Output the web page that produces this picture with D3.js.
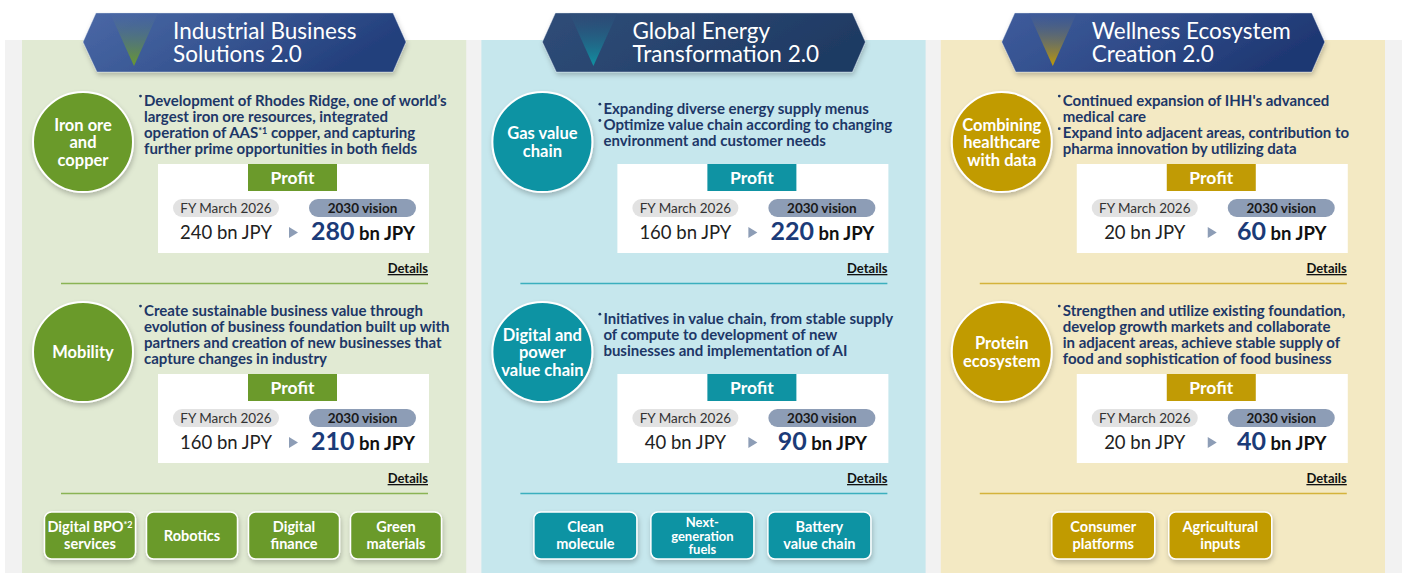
<!DOCTYPE html>
<html>
<head>
<meta charset="utf-8">
<script src="https://cdn.jsdelivr.net/npm/d3@7"></script>
<style>
  body { margin: 0; background: #fff; }
  svg { display: block; }
  text { font-family: Lato, "Noto Sans", sans-serif; }
</style>
</head>
<body>
<div id="chart"></div>
<script>
;(function() {
  'use strict';

  // ---- data ----
  var pillarTitles = [
    ['Industrial Business', 'Solutions 2.0'],
    ['Global Energy', 'Transformation 2.0'],
    ['Wellness Ecosystem', 'Creation 2.0']
  ];

  var segmentNames = [
    [['Iron ore', 'and', 'copper'], ['Mobility']],
    [['Gas value', 'chain'], ['Digital and', 'power', 'value chain']],
    [['Combining', 'healthcare', 'with data'], ['Protein', 'ecosystem']]
  ];

  // each bullet is a list of lines; {..} marks a superscript
  var segmentBullets = [
    [
      [["Development of Rhodes Ridge, one of world\u2019s", 'largest iron ore resources, integrated', 'operation of AAS{*1} copper, and capturing', 'further prime opportunities in both fields']],
      [['Create sustainable business value through', 'evolution of business foundation built up with', 'partners and creation of new businesses that', 'capture changes in industry']]
    ],
    [
      [['Expanding diverse energy supply menus'], ['Optimize value chain according to changing', 'environment and customer needs']],
      [['Initiatives in value chain, from stable supply', 'of compute to development of new', 'businesses and implementation of AI']]
    ],
    [
      [["Continued expansion of IHH's advanced", 'medical care'], ['Expand into adjacent areas, contribution to', 'pharma innovation by utilizing data']],
      [['Strengthen and utilize existing foundation,', 'develop growth markets and collaborate', 'in adjacent areas, achieve stable supply of', 'food and sophistication of food business']]
    ]
  ];

  var profitFY2026 = [[240, 160], [160, 40], [20, 20]];
  var profitVision2030 = [[280, 210], [220, 90], [60, 40]];

  var focusAreas = [
    [['Digital BPO{*2}', 'services'], ['Robotics'], ['Digital', 'finance'], ['Green', 'materials']],
    [['Clean', 'molecule'], ['Next-', 'generation', 'fuels'], ['Battery', 'value chain']],
    [['Consumer', 'platforms'], ['Agricultural', 'inputs']]
  ];

  var accentColors = ['#6b9a2b', '#0f93a3', '#c19b05'];
  var panelColors = ['#e1ead3', '#c6e7ed', '#f3e9c3'];
  var ruleColors = ['#8ab454', '#3bafbe', '#d4b33b'];
  var bannerColors = [['#4a68a6', '#233f7c'], ['#2f4d78', '#1f3a63'], ['#3e5c9c', '#1f3873']];

  // ---- layout ----
  var width = 1402, height = 573;

  var svg = d3.select('#chart').append('svg')
    .attr('width', width)
    .attr('height', height);

  var defs = svg.append('defs');

  var shadow = defs.append('filter').attr('id', 'shadow')
    .attr('x', '-20%').attr('y', '-20%').attr('width', '140%').attr('height', '150%');
  shadow.append('feDropShadow')
    .attr('dx', 1).attr('dy', 3).attr('stdDeviation', 2.5)
    .attr('flood-color', '#000').attr('flood-opacity', 0.22);

  bannerColors.forEach(function(c, i) {
    var g = defs.append('linearGradient').attr('id', 'banner' + i)
      .attr('x1', 0).attr('y1', 0).attr('x2', 1).attr('y2', 0.3);
    g.append('stop').attr('offset', '0%').attr('stop-color', c[0]);
    g.append('stop').attr('offset', '45%').attr('stop-color', d3.interpolateRgb(c[0], c[1])(0.4));
    g.append('stop').attr('offset', '100%').attr('stop-color', c[1]);

    var t = defs.append('linearGradient').attr('id', 'tri' + i)
      .attr('x1', 0).attr('y1', 0).attr('x2', 0).attr('y2', 1);
    t.append('stop').attr('offset', '0%').attr('stop-color', c[0]).attr('stop-opacity', 0.3);
    t.append('stop').attr('offset', '100%').attr('stop-color', accentColors[i]);
  });

  var x = d3.scaleBand()
    .domain(d3.range(pillarTitles.length))
    .range([22, 1385])
    .paddingInner(0.033);

  var sectionY = d3.scaleLinear().domain([0, 1]).range([0, 210]);

  // grey backdrop
  svg.append('rect')
    .attr('x', 5).attr('y', 40)
    .attr('width', width - 5).attr('height', height - 40)
    .attr('fill', '#f2f2f2');

  function addText(sel, str, supSize) {
    // split on {..} superscripts
    str.split(/(\{[^}]*\})/).forEach(function(part) {
      if (!part) return;
      if (part.charAt(0) === '{') {
        sel.append('tspan')
          .attr('font-size', supSize)
          .attr('baseline-shift', '45%')
          .text(part.slice(1, -1));
      } else {
        sel.append('tspan').text(part);
      }
    });
  }

  var panel = svg.selectAll('g.panel')
    .data(pillarTitles)
    .enter().append('g')
    .attr('class', 'panel')
    .attr('transform', function(d, i) { return 'translate(' + x(i) + ',0)'; });

  panel.append('rect')
    .attr('y', 40)
    .attr('width', x.bandwidth())
    .attr('height', height - 40)
    .attr('fill', function(d, i) { return panelColors[i]; });

  panel.each(function(title, p) {
    var g = d3.select(this);
    var accent = accentColors[p];

    /* ------- BANNER ------- */
    var bx0 = 61, bx1 = 384, by0 = 13, by1 = 72, bm = 42;
    g.append('path')
      .attr('d', 'M' + (bx0 + 13) + ',' + by0 + 'L' + (bx1 - 13) + ',' + by0 +
        'L' + bx1 + ',' + bm + 'L' + (bx1 - 13) + ',' + by1 +
        'L' + (bx0 + 14) + ',' + by1 + 'L' + bx0 + ',' + bm + 'Z')
      .attr('fill', 'url(#banner' + p + ')')
      .attr('stroke', '#dfe6f2').attr('stroke-opacity', 0.5).attr('stroke-width', 0.8)
      .attr('filter', 'url(#shadow)');

    g.append('path')
      .attr('d', 'M88,' + by0 + 'L136,' + by0 + 'L112,66Z')
      .attr('fill', 'url(#tri' + p + ')');

    title.forEach(function(line, i) {
      g.append('text')
        .attr('x', 151).attr('y', 39 + i * 23)
        .attr('fill', '#fff')
        .attr('font-size', 22.5)
        .text(line);
    });

    /* ------- SEGMENTS ------- */
    segmentNames[p].forEach(function(names, s) {
      var sy = sectionY(s);
      var cy = 142 + sy;

      g.append('circle')
        .attr('cx', 61).attr('cy', cy).attr('r', 50)
        .attr('fill', accent)
        .attr('stroke', '#fff').attr('stroke-width', 2)
        .attr('filter', 'url(#shadow)');

      var lh = 17.5;
      names.forEach(function(n, i) {
        g.append('text')
          .attr('x', 61)
          .attr('y', cy + 6 + (i - (names.length - 1) / 2) * lh)
          .attr('text-anchor', 'middle')
          .attr('fill', '#fff')
          .attr('font-size', 16.5)
          .attr('font-weight', 700)
          .text(n);
      });

      // bullet text
      var bullets = segmentBullets[p][s];
      var lines = [];
      bullets.forEach(function(b) {
        b.forEach(function(l, k) { lines.push({ text: l, first: k === 0 }); });
      });
      var blh = 16.3;
      var top = 125 + sy - (lines.length - 1) / 2 * blh;
      lines.forEach(function(l, k) {
        var ly = top + k * blh + 5;
        if (l.first) {
          g.append('circle')
            .attr('cx', 118.5).attr('cy', ly - 9.5)
            .attr('r', 1.4)
            .attr('fill', '#1d3767');
        }
        var t = g.append('text')
          .attr('x', 122).attr('y', ly)
          .attr('fill', '#1d3767')
          .attr('font-size', 15)
          .attr('font-weight', 700);
        addText(t, l.text, 9);
      });

      /* ------- PROFIT BOX ------- */
      var bx = 136, by = 164 + sy, bw = 271, bh = 89;
      g.append('rect')
        .attr('x', bx).attr('y', by)
        .attr('width', bw).attr('height', bh)
        .attr('fill', '#fff');

      g.append('rect')
        .attr('x', bx + 90).attr('y', by)
        .attr('width', 89).attr('height', 27)
        .attr('fill', accent);
      g.append('text')
        .attr('x', bx + 134.5).attr('y', by + 20)
        .attr('text-anchor', 'middle')
        .attr('fill', '#fff')
        .attr('font-size', 17.5)
        .attr('font-weight', 700)
        .text('Profit');

      g.append('rect')
        .attr('x', bx + 15).attr('y', by + 35)
        .attr('width', 106).attr('height', 18).attr('rx', 9)
        .attr('fill', '#e2e2e2');
      g.append('text')
        .attr('x', bx + 68).attr('y', by + 49)
        .attr('text-anchor', 'middle')
        .attr('fill', '#333')
        .attr('font-size', 13.5)
        .text('FY March 2026');

      g.append('rect')
        .attr('x', bx + 151).attr('y', by + 35)
        .attr('width', 107).attr('height', 18).attr('rx', 9)
        .attr('fill', '#8d9db6');
      g.append('text')
        .attr('x', bx + 204.5).attr('y', by + 49)
        .attr('text-anchor', 'middle')
        .attr('fill', '#1a1a1a')
        .attr('font-size', 13.5)
        .attr('font-weight', 700)
        .text('2030 vision');

      g.append('text')
        .attr('x', bx + 68).attr('y', by + 75)
        .attr('text-anchor', 'middle')
        .attr('fill', '#222')
        .attr('font-size', 18.5)
        .text(profitFY2026[p][s] + ' bn JPY');

      g.append('path')
        .attr('d', 'M' + (bx + 131) + ',' + (by + 63) + 'l9,5.5l-9,5.5Z')
        .attr('fill', '#8d9db6');

      var v = g.append('text')
        .attr('x', bx + 205).attr('y', by + 76)
        .attr('text-anchor', 'middle')
        .attr('font-weight', 700);
      v.append('tspan')
        .attr('fill', '#1b3b78')
        .attr('font-size', 25)
        .text(profitVision2030[p][s]);
      v.append('tspan')
        .attr('fill', '#111')
        .attr('font-size', 18.5)
        .text(' bn JPY');

      g.append('text')
        .attr('x', 406).attr('y', 273 + sy)
        .attr('text-anchor', 'end')
        .attr('fill', '#111')
        .attr('font-size', 13)
        .attr('font-weight', 700)
        .attr('text-decoration', 'underline')
        .text('Details');

      g.append('line')
        .attr('x1', 39).attr('x2', 406)
        .attr('y1', 283.5 + sy).attr('y2', 283.5 + sy)
        .attr('stroke', ruleColors[p])
        .attr('stroke-width', 1.5);
    });

    /* ------- FOCUS AREAS ------- */
    var areas = focusAreas[p];
    var fw = areas.length > 3 ? 91 : 103;
    var gap = areas.length > 3 ? 11 : 14;
    var total = areas.length * fw + (areas.length - 1) * gap;
    var fx = d3.scaleBand()
      .domain(d3.range(areas.length))
      .range([221 - total / 2, 221 + total / 2])
      .paddingInner(gap / (fw + gap));

    var box = g.selectAll('g.area')
      .data(areas)
      .enter().append('g')
      .attr('class', 'area')
      .attr('transform', function(d, i) { return 'translate(' + fx(i) + ',512)'; });

    box.append('rect')
      .attr('width', fx.bandwidth()).attr('height', 47)
      .attr('rx', 7)
      .attr('fill', accent)
      .attr('stroke', '#fff').attr('stroke-width', 1.5)
      .attr('filter', 'url(#shadow)');

    box.each(function(lines) {
      var b = d3.select(this);
      var lh = lines.length > 2 ? 13.5 : 16.5;
      var fs = lines.length > 2 ? 13 : 14.5;
      lines.forEach(function(l, k) {
        var t = b.append('text')
          .attr('x', fx.bandwidth() / 2)
          .attr('y', 23.5 + 5 + (k - (lines.length - 1) / 2) * lh)
          .attr('text-anchor', 'middle')
          .attr('fill', '#fff')
          .attr('font-size', fs)
          .attr('font-weight', 700);
        addText(t, l, 9);
      });
    });
  });
})();
</script>
</body>
</html>
